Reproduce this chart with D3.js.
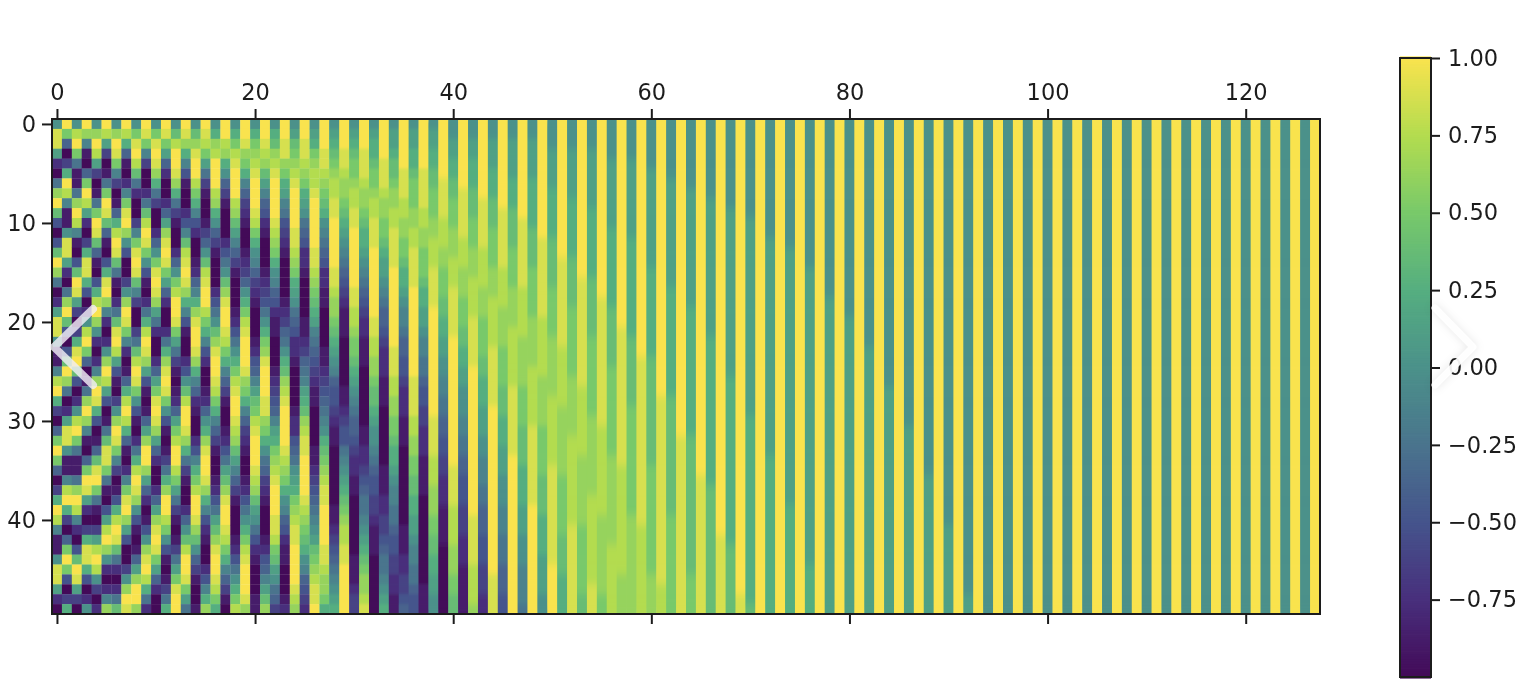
<!DOCTYPE html>
<html><head><meta charset="utf-8">
<script src="https://cdn.jsdelivr.net/npm/d3@7"></script>
<style>html,body{margin:0;padding:0;background:#fff;overflow:hidden}svg{display:block}text{font-family:"DejaVu Sans",sans-serif}</style>
</head><body><svg id="c" width="1522" height="685"></svg>
<script>
// Tick labels
const xTicks = [0,20,40,60,80,100,120];
const yTicks = [0,10,20,30,40];
const colorbarTicks = [1,0.75,0.5,0.25,0,-0.25,-0.5,-0.75];
// Colour stops (value -> colour)
const colorValues = [-1,-0.75,-0.5,-0.25,0,0.25,0.5,0.75,1];
const colorStops = ["#430a58","#482f7c","#45548c","#4a748d","#4b918a","#55ae80","#78c96a","#b3dc4f","#f9e34e"];
// Cell levels, one string per column (50 rows, top to bottom).
// Each character is a base-17 level: 0 = -1, 8 = 0, g = +1.
const nearColumns = [
"8ff9206dgb"+"404bgd6029"+"ff8117ega3"+"05cgc503ag"+"e7118ff920",
"gc503age71"+"18ff9206dg"+"b404bgd602"+"9ff8117ega"+"305cgc403a",
"8egc6116dg"+"e7104bgf93"+"03afgb4028"+"egc6116dge"+"7204bgf930",
"gd7105cge9"+"203affa402"+"8egc5016dg"+"d7105cgf92"+"03affa4028",
"8dge93016c"+"gfb5104aeg"+"d82027dgfa"+"4015bfgc61"+"039ege8302",
"ge93016cgf"+"b5104afgd7"+"2028dge940"+"16bffc6104"+"9egd82027d",
"8dgfc73015"+"aegfb61026"+"bfge941038"+"dgfc73014a"+"egfb62026b",
"gea51027cf"+"gd840038dg"+"fc72015aeg"+"ea51027cfg"+"d940038dgf",
"8cfgeb6200"+"37cfgfb730"+"036begfc84"+"1026aegfd8"+"410159dggd",
"gfc730026b"+"egfc841026"+"aegfd94101"+"59dggd9520"+"148dfgea62",
"8cfgfda630"+"0258cfgfd9"+"6200259cfg"+"fd95200259"+"dfgfc95200",
"gfc9520025"+"9dfgfc9520"+"026adfgfc8"+"410136adgg"+"ec8410136a",
"8beggfda63"+"100258cegg"+"fc96310125"+"9ceggec963"+"101369cfgg",
"gfda741002"+"47befgfda7"+"4100248beg"+"gfda631002"+"58beggfc96",
"8bdfggeca7"+"42001257ad"+"fggfda7521"+"00247acegg"+"fdb8531001",
"gfec963100"+"1358befgge"+"ca74200125"+"8adfggfda7"+"42100247ad",
"8adegggeda"+"8531000246"+"8bdfggfeca"+"7531001246"+"9bdfggfeca",
"ggeda85310"+"002468bdfg"+"gfeca75310"+"012469bdfg"+"gfeca75310",
"8acefggged"+"b975310001"+"2468acefgg"+"fedb975310"+"0012468ace",
"ggfdca7532"+"10012358ac"+"efgggfdca7"+"5321001246"+"8acefgggfd",
"8acdefgggf"+"eca8753210"+"00124579bc"+"efgggfedb9"+"8642100011",
"ggfedb9754"+"2100012346"+"8acdfgggff"+"dca8653210"+"00124579bd",
"8abdefgggg"+"fedca87542"+"1100012345"+"79acdefggg"+"ffecb98653",
"ggffdca976"+"4321000012"+"3568abdefg"+"gggfedca87"+"5421100012",
"89bcdefggg"+"gffedca986"+"5422100001"+"2245689acd"+"effggggfed",
"ggffedca98"+"6542210000"+"11235679ab"+"deffggggfe"+"dcba875432",
"89acdeefgg"+"gggffedcba"+"9765432110"+"0001123456"+"789bcdeffg",
"gggffedcba"+"8765422110"+"0001123456"+"78abcdeffg"+"gggffeddca",
"89abcdeeff"+"gggggffedd"+"cba9875443"+"2110000001"+"123456789a",
"gggffeddcb"+"a987654321"+"1100000112"+"3446789abc"+"deeffggggg",
"89abccdeef"+"fggggggffe"+"edccba9876"+"5543221100"+"0000111233",
"gggfffeddc"+"baa9876543"+"2211100000"+"0112234566"+"789abcddef",
"89aabccdee"+"fffggggggg"+"ffeeddcbba"+"9887654433"+"2111000000",
"ggggfffedd"+"ccba998765"+"5432221110"+"0000011122"+"334566789a",
"899abbcdde"+"effffggggg"+"gggfffeedd"+"ccbaa98776"+"6544332211",
"gggggfffee"+"ddccbaa987"+"7655443222"+"1110000000"+"0111223345",
"899aabcccd"+"deeffffggg"+"ggggggffff"+"eeddccbbaa"+"9987766544",
"gggggffffe"+"eddcccbaa9"+"9877665443"+"3222111100"+"0000000111",
"899aabbccc"+"ddeeeffffg"+"gggggggggg"+"ffffeeeddd"+"ccbbaa9988",
"ggggggffff"+"eeeddcccbb"+"aa99887766"+"5544332221"+"1110000000",
"8899aabbcc"+"cdddeeefff"+"ffgggggggg"+"gggggffffe"+"eeedddccbb",
"gggggggfff"+"ffeeedddcc"+"cbbaa99888"+"7766554443"+"3322211111",
"8899aaabbb"+"cccdddeeee"+"fffffggggg"+"gggggggggg"+"fffffeeeed",
"ggggggggff"+"fffeeeeddd"+"ccccbbaaa9"+"9988777665"+"5544433322",
"88999aaabb"+"bccccdddee"+"eeeffffffg"+"gggggggggg"+"ggggggffff",
"gggggggggf"+"fffffeeeed"+"dddccccbbb"+"aaa9998887"+"7766655544",
"889999aaab"+"bbbccccddd"+"deeeeeefff"+"ffffgggggg"+"gggggggggg",
"gggggggggg"+"fffffffeee"+"eedddddccc"+"cbbbbaaaa9"+"9988877776",
"889999aaaa"+"abbbbccccc"+"dddddeeeee"+"effffffffg"+"gggggggggg",
"gggggggggg"+"ggffffffff"+"eeeeeedddd"+"dcccccbbbb"+"aaaa999988",
"8889999aaa"+"aabbbbbccc"+"ccddddddee"+"eeeeefffff"+"fffffggggg",
"gggggggggg"+"ggggffffff"+"fffeeeeeed"+"ddddddcccc"+"ccbbbbaaaa",
"88899999aa"+"aaaabbbbbc"+"ccccccdddd"+"ddeeeeeeee"+"efffffffff",
"gggggggggg"+"ggggggffff"+"fffffffeee"+"eeeedddddd"+"dcccccccbb",
"888999999a"+"aaaaaabbbb"+"bbcccccccc"+"ddddddddee"+"eeeeeeefff",
"gggggggggg"+"ggggggggff"+"ffffffffff"+"feeeeeeeee"+"ddddddddcc",
"8888999999"+"9aaaaaaaab"+"bbbbbccccc"+"ccccdddddd"+"dddeeeeeee",
"gggggggggg"+"gggggggggg"+"gfffffffff"+"fffffeeeee"+"eeeeeedddd",
"8888999999"+"99aaaaaaaa"+"aabbbbbbbc"+"cccccccccc"+"dddddddddd",
"gggggggggg"+"gggggggggg"+"ggggffffff"+"ffffffffff"+"feeeeeeeee",
"8888899999"+"99999aaaaa"+"aaaabbbbbb"+"bbbbbccccc"+"ccccccdddd",
"gggggggggg"+"gggggggggg"+"ggggggggff"+"ffffffffff"+"fffffffeee",
"8888889999"+"9999999aaa"+"aaaaaaaabb"+"bbbbbbbbbb"+"cccccccccc",
"gggggggggg"+"gggggggggg"+"gggggggggg"+"ggffffffff"+"ffffffffff"
];
// Columns 64-127, written as level x count runs (even = teal stripes, odd = yellow stripes)
const farEvenColumns = [
"8x7 9x12 ax13 bx14 cx4","8x8 9x14 ax15 bx13","8x9 9x17 ax17 bx7","8x10 9x20 ax19 bx1",
"8x12 9x22 ax16","8x13 9x26 ax11","8x15 9x30 ax5","8x18 9x32","8x20 9x30","8x23 9x27",
"8x27 9x23","8x31 9x19","8x36 9x14","8x41 9x9","8x48 9x2",
"8x50","8x50","8x50","8x50","8x50","8x50","8x50","8x50","8x50","8x50","8x50","8x50","8x50","8x50","8x50","8x50","8x50"
];
const farOddColumns = [
"gx36 fx14","gx42 fx8","gx48 fx2",
"gx50","gx50","gx50","gx50","gx50","gx50","gx50","gx50","gx50","gx50","gx50","gx50","gx50",
"gx50","gx50","gx50","gx50","gx50","gx50","gx50","gx50","gx50","gx50","gx50","gx50","gx50","gx50","gx50","gx50"
];

const unrun = s => s.split(" ").map(r => { const [c,n] = r.split("x"); return c.repeat(+n); }).join("");
const farColumns = farEvenColumns.flatMap((e,i) => [unrun(e), unrun(farOddColumns[i])]);
const allColumns = nearColumns.concat(farColumns);
const levelToValue = c => (parseInt(c,17) - 8) / 8;
const cells = allColumns.flatMap((col,x) => Array.from(col).slice(0,50).map((c,y) => ({x,y,v:levelToValue(c)})));

const svg = d3.select("#c");
const x = d3.scaleLinear().domain([-0.5,127.5]).range([52,1320]);
const y = d3.scaleLinear().domain([-0.5,49.5]).range([119,614]);
const color = d3.scaleLinear().domain(colorValues).range(colorStops).interpolate(d3.interpolateRgb);
const ink = "#1c1c1c", fontSize = 22.5;

const defs = svg.append("defs");
defs.append("clipPath").attr("id","plotClip").append("rect").attr("x",52).attr("y",119).attr("width",1268).attr("height",495);
function softFilter(id, dev){
  const f = defs.append("filter").attr("id",id).attr("x","-2%").attr("y","-5%").attr("width","104%").attr("height","110%");
  f.append("feGaussianBlur").attr("stdDeviation",dev);
}
softFilter("softRowsA","0.7 1.6");
softFilter("softRowsB","0.7 3");
softFilter("softRowsC","0.7 5");

function drawCells(g, data){
  g.selectAll("rect").data(data).join("rect")
    .attr("x",d=>x(d.x-0.5)).attr("y",d=>y(d.y-0.5))
    .attr("width",d=>x(d.x+0.5)-x(d.x-0.5)+(d.x<127?0.3:0))
    .attr("height",d=>y(d.y+0.5)-y(d.y-0.5)+(d.y<49?0.3:0))
    .attr("fill",d=>color(d.v))
    .attr("shape-rendering","geometricPrecision");
}
const plot = svg.append("g").attr("clip-path","url(#plotClip)");
drawCells(plot.append("g").style("filter","blur(0.7px)"), cells);
// The slow stripes change smoothly from row to row, so their level steps are softened vertically
drawCells(plot.append("g").attr("filter","url(#softRowsA)"), cells.filter(d=>d.x>=28 && d.x<38));
drawCells(plot.append("g").attr("filter","url(#softRowsB)"), cells.filter(d=>d.x>=38 && d.x<50));
drawCells(plot.append("g").attr("filter","url(#softRowsC)"), cells.filter(d=>d.x>=50));

function styleAxis(g){
  g.style("filter","blur(0.3px)");
  g.selectAll("path.domain").remove();
  g.selectAll("line").attr("stroke",ink).attr("stroke-width",2);
  g.selectAll("text").attr("fill",ink).style("font-size",fontSize+"px").style("font-family",'"DejaVu Sans",sans-serif');
}
svg.append("g").attr("transform","translate(0,119)").call(d3.axisTop(x).tickValues(xTicks).tickSize(10).tickPadding(9)).call(styleAxis);
svg.append("g").attr("transform","translate(0,614)").call(d3.axisBottom(x).tickValues(xTicks).tickSize(10).tickFormat("")).call(styleAxis);
svg.append("g").attr("transform","translate(52,0)").call(d3.axisLeft(y).tickValues(yTicks).tickSize(10).tickPadding(6)).call(styleAxis);
svg.append("rect").attr("x",52).attr("y",119).attr("width",1268).attr("height",495).attr("fill","none").attr("stroke",ink).attr("stroke-width",2);

// Colour bar
const cy = d3.scaleLinear().domain([-1,1]).range([677,58]);
const barSteps = d3.range(0,256).map(i => -1 + 2*i/255);
svg.append("g").selectAll("rect").data(barSteps).join("rect")
  .attr("x",1400).attr("width",31)
  .attr("y",d=>cy(d)-1.6).attr("height",3.2)
  .attr("fill",d=>color(d));
svg.append("g").attr("transform","translate(1431,0)")
  .call(d3.axisRight(cy).tickValues(colorbarTicks).tickSize(9).tickPadding(8).tickFormat(d=>d3.format(".2f")(d).replace("-","\u2212")))
  .call(styleAxis);
svg.append("rect").attr("x",1400).attr("y",58).attr("width",31).attr("height",619).attr("fill","none").attr("stroke",ink).attr("stroke-width",2);

// Carousel arrows lying over the screenshot
const arrow = d3.line();
svg.append("path").attr("d",arrow([[93,309],[54,347],[93,385]]))
  .attr("fill","none").attr("stroke","#f1eef5").attr("stroke-opacity",0.82)
  .attr("stroke-width",8).attr("stroke-linecap","round").attr("stroke-linejoin","round");
svg.append("path").attr("d",arrow([[1435,308],[1473,347],[1435,385]]))
  .attr("fill","none").attr("stroke","#ffffff").attr("stroke-opacity",0.92)
  .attr("stroke-width",7).attr("stroke-linecap","round").attr("stroke-linejoin","round")
  .style("filter","drop-shadow(0 0 4px rgba(0,0,0,0.10))");
</script></body></html>
